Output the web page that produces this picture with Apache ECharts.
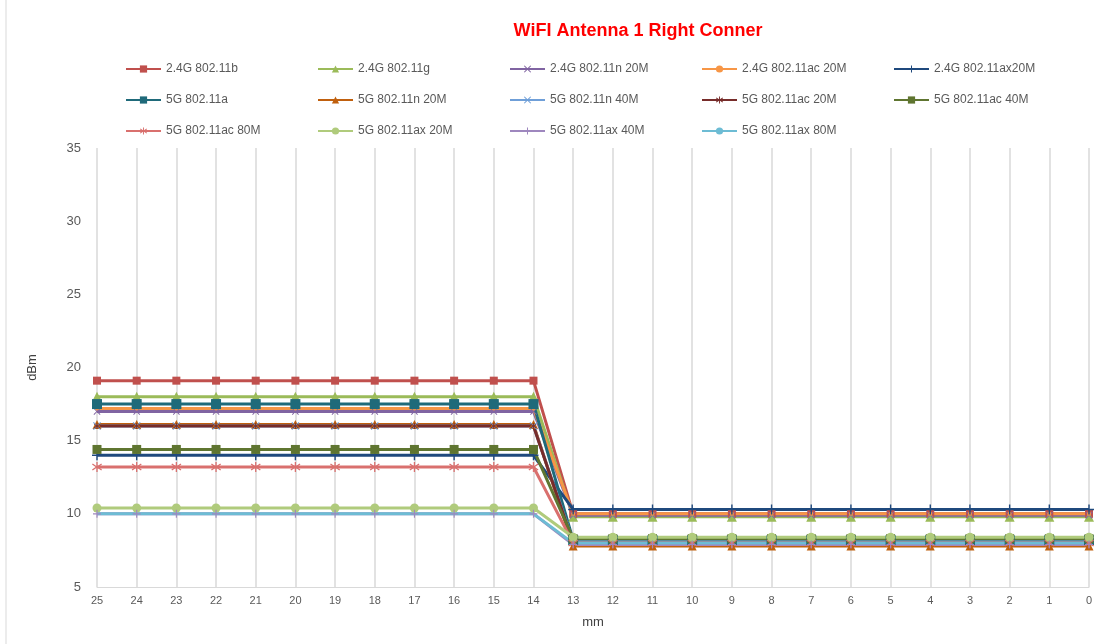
<!DOCTYPE html>
<html>
<head>
<meta charset="utf-8">
<script src="https://cdn.jsdelivr.net/npm/echarts@6/dist/echarts.min.js"></script>
<style>
  html, body { margin: 0; padding: 0; background: #fff; }
  #chart { width: 1101px; height: 644px; }
</style>
</head>
<body>
<div id="chart"></div>
<script>
// x categories (mm), left to right
const distances = ['25','24','23','22','21','20','19','18','17','16','15','14','13','12','11','10','9','8','7','6','5','4','3','2','1','0'];

// values, 25mm .. 0mm
const b24_11b      = [19.1, 19.1, 19.1, 19.1, 19.1, 19.1, 19.1, 19.1, 19.1, 19.1, 19.1, 19.1, 10.0, 10.0, 10.0, 10.0, 10.0, 10.0, 10.0, 10.0, 10.0, 10.0, 10.0, 10.0, 10.0, 10.0];
const b24_11g      = [18.0, 18.0, 18.0, 18.0, 18.0, 18.0, 18.0, 18.0, 18.0, 18.0, 18.0, 18.0, 9.8, 9.8, 9.8, 9.8, 9.8, 9.8, 9.8, 9.8, 9.8, 9.8, 9.8, 9.8, 9.8, 9.8];
const b24_11n20    = [17.0, 17.0, 17.0, 17.0, 17.0, 17.0, 17.0, 17.0, 17.0, 17.0, 17.0, 17.0, 9.9, 9.9, 9.9, 9.9, 9.9, 9.9, 9.9, 9.9, 9.9, 9.9, 9.9, 9.9, 9.9, 9.9];
const b24_11ac20   = [17.2, 17.2, 17.2, 17.2, 17.2, 17.2, 17.2, 17.2, 17.2, 17.2, 17.2, 17.2, 10.0, 10.0, 10.0, 10.0, 10.0, 10.0, 10.0, 10.0, 10.0, 10.0, 10.0, 10.0, 10.0, 10.0];
const b24_11ax20   = [14.0, 14.0, 14.0, 14.0, 14.0, 14.0, 14.0, 14.0, 14.0, 14.0, 14.0, 14.0, 10.3, 10.3, 10.3, 10.3, 10.3, 10.3, 10.3, 10.3, 10.3, 10.3, 10.3, 10.3, 10.3, 10.3];
const b5_11a       = [17.5, 17.5, 17.5, 17.5, 17.5, 17.5, 17.5, 17.5, 17.5, 17.5, 17.5, 17.5, 8.2, 8.2, 8.2, 8.2, 8.2, 8.2, 8.2, 8.2, 8.2, 8.2, 8.2, 8.2, 8.2, 8.2];
const b5_11n20     = [16.1, 16.1, 16.1, 16.1, 16.1, 16.1, 16.1, 16.1, 16.1, 16.1, 16.1, 16.1, 7.8, 7.8, 7.8, 7.8, 7.8, 7.8, 7.8, 7.8, 7.8, 7.8, 7.8, 7.8, 7.8, 7.8];
const b5_11n40     = [16.0, 16.0, 16.0, 16.0, 16.0, 16.0, 16.0, 16.0, 16.0, 16.0, 16.0, 16.0, 8.1, 8.1, 8.1, 8.1, 8.1, 8.1, 8.1, 8.1, 8.1, 8.1, 8.1, 8.1, 8.1, 8.1];
const b5_11ac20    = [16.0, 16.0, 16.0, 16.0, 16.0, 16.0, 16.0, 16.0, 16.0, 16.0, 16.0, 16.0, 8.0, 8.0, 8.0, 8.0, 8.0, 8.0, 8.0, 8.0, 8.0, 8.0, 8.0, 8.0, 8.0, 8.0];
const b5_11ac40    = [14.4, 14.4, 14.4, 14.4, 14.4, 14.4, 14.4, 14.4, 14.4, 14.4, 14.4, 14.4, 8.3, 8.3, 8.3, 8.3, 8.3, 8.3, 8.3, 8.3, 8.3, 8.3, 8.3, 8.3, 8.3, 8.3];
const b5_11ac80    = [13.2, 13.2, 13.2, 13.2, 13.2, 13.2, 13.2, 13.2, 13.2, 13.2, 13.2, 13.2, 8.0, 8.0, 8.0, 8.0, 8.0, 8.0, 8.0, 8.0, 8.0, 8.0, 8.0, 8.0, 8.0, 8.0];
const b5_11ax20    = [10.4, 10.4, 10.4, 10.4, 10.4, 10.4, 10.4, 10.4, 10.4, 10.4, 10.4, 10.4, 8.4, 8.4, 8.4, 8.4, 8.4, 8.4, 8.4, 8.4, 8.4, 8.4, 8.4, 8.4, 8.4, 8.4];
const b5_11ax40    = [10.0, 10.0, 10.0, 10.0, 10.0, 10.0, 10.0, 10.0, 10.0, 10.0, 10.0, 10.0, 7.9, 7.9, 7.9, 7.9, 7.9, 7.9, 7.9, 7.9, 7.9, 7.9, 7.9, 7.9, 7.9, 7.9];
const b5_11ax80    = [10.0, 10.0, 10.0, 10.0, 10.0, 10.0, 10.0, 10.0, 10.0, 10.0, 10.0, 10.0, 8.0, 8.0, 8.0, 8.0, 8.0, 8.0, 8.0, 8.0, 8.0, 8.0, 8.0, 8.0, 8.0, 8.0];

const yTicks = [5, 35, 5]; // min, max, step

// marker shapes
const X_MARK = 'path://M0,1L1,0L5,4L9,0L10,1L6,5L10,9L9,10L5,6L1,10L0,9L4,5Z';
const PLUS_MARK = 'path://M4.3,0H5.7V4.3H10V5.7H5.7V10H4.3V5.7H0V4.3H4.3Z';
const STAR_MARK = 'path://M4.4,0H5.6V3.9L8.9,1.5L9.6,2.5L6.3,5L9.6,7.5L8.9,8.5L5.6,6.1V10H4.4V6.1L1.1,8.5L0.4,7.5L3.7,5L0.4,2.5L1.1,1.5L4.4,3.9Z';
const DASH_MARK = 'path://M0,3H10V7H0Z';

// name, data, colour, symbol, symbol size
const seriesDefs = [
  ['2.4G 802.11b', b24_11b, '#C0504D', 'rect', 8],
  ['2.4G 802.11g', b24_11g, '#9BBB59', 'triangle', 10],
  ['2.4G 802.11n 20M', b24_11n20, '#8064A2', X_MARK, 7],
  ['2.4G 802.11ac 20M', b24_11ac20, '#F79646', 'circle', 4],
  ['2.4G 802.11ax20M', b24_11ax20, '#1F497D', PLUS_MARK, 10],
  ['5G 802.11a', b5_11a, '#1F6A7A', 'rect', 10],
  ['5G 802.11n 20M', b5_11n20, '#C0600E', 'triangle', 9],
  ['5G 802.11n 40M', b5_11n40, '#6F9FD8', X_MARK, 8],
  ['5G 802.11ac 20M', b5_11ac20, '#772C2A', STAR_MARK, 6],
  ['5G 802.11ac 40M', b5_11ac40, '#5F7530', DASH_MARK, 9],
  ['5G 802.11ac 80M', b5_11ac80, '#D9706E', STAR_MARK, 10],
  ['5G 802.11ax 20M', b5_11ax20, '#B0CB7C', 'circle', 9],
  ['5G 802.11ax 40M', b5_11ax40, '#9E87BE', PLUS_MARK, 8],
  ['5G 802.11ax 80M', b5_11ax80, '#6DBCD4', 'none', 0]
];

const chart = echarts.init(document.getElementById('chart'));

// one legend per item so the columns keep a fixed pitch
const legends = seriesDefs.map(function (d, i) {
  return {
    data: [d[0]],
    left: 120 + (i % 5) * 192,
    top: 58 + Math.floor(i / 5) * 31,
    itemWidth: 35,
    itemHeight: 9,
    itemGap: 10,
    selectedMode: false,
    textStyle: { fontFamily: 'Liberation Sans, Arial', fontSize: 12, color: '#595959' }
  };
});

const option = {
  backgroundColor: '#fff',
  animation: false,
  title: {
    text: 'WiFI Antenna 1 Right Conner',
    left: 633,
    textAlign: 'center',
    top: 17,
    textStyle: { fontFamily: 'Liberation Sans, Arial', fontSize: 18, fontWeight: 'bold', color: '#FF0000' }
  },
  legend: legends,
  grid: { left: 97, right: 12, top: 148, bottom: 57, containLabel: false },
  xAxis: {
    type: 'category',
    data: distances,
    boundaryGap: false,
    name: 'mm',
    nameLocation: 'middle',
    nameGap: 29,
    nameTextStyle: { fontFamily: 'Liberation Sans, Arial', fontSize: 13, color: '#404040' },
    axisLine: { lineStyle: { color: '#D9D9D9', width: 1 } },
    axisTick: { show: false },
    axisLabel: { fontFamily: 'Liberation Sans, Arial', fontSize: 11, color: '#595959', margin: 8 },
    splitLine: { show: true, lineStyle: { color: '#D9D9D9', width: 1.5 } }
  },
  yAxis: {
    type: 'value',
    min: yTicks[0],
    max: yTicks[1],
    interval: yTicks[2],
    name: 'dBm',
    nameLocation: 'middle',
    nameGap: 58,
    nameRotate: 90,
    nameTextStyle: { fontFamily: 'Liberation Sans, Arial', fontSize: 13, color: '#404040' },
    axisLine: { show: false },
    axisTick: { show: false },
    axisLabel: { fontFamily: 'Liberation Sans, Arial', fontSize: 13, color: '#595959', margin: 16 },
    splitLine: { show: false }
  },
  graphic: [{
    type: 'line',
    shape: { x1: 6, y1: 0, x2: 6, y2: 644 },
    style: { stroke: '#D9D9D9', lineWidth: 1 }
  }],
  series: seriesDefs.map(function (d) {
    return {
      name: d[0],
      type: 'line',
      data: d[1],
      symbol: d[3],
      symbolSize: d[4],
      showSymbol: d[3] !== 'none',
      color: d[2],
      lineStyle: { width: 3, color: d[2] },
      itemStyle: { color: d[2] }
    };
  })
};

chart.setOption(option);
</script>
</body>
</html>
